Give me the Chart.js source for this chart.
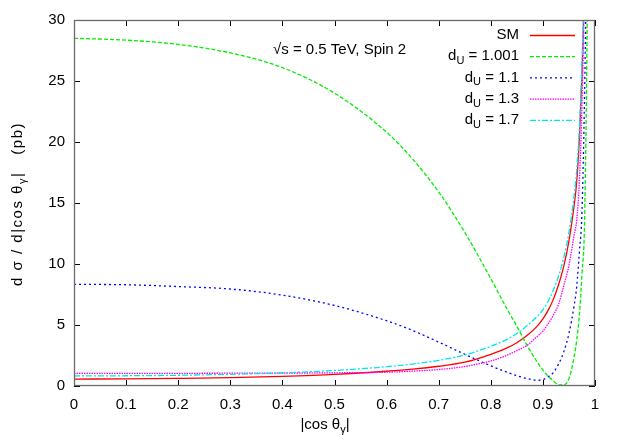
<!DOCTYPE html>
<html>
<head>
<meta charset="utf-8">
<script src="https://cdn.jsdelivr.net/npm/chart.js@4.4.1/dist/chart.umd.min.js"></script>
<style>
  html, body { margin: 0; padding: 0; background: #fff; }
  #wrap { width: 623px; height: 436px; }
</style>
</head>
<body>
<div id="wrap"><canvas id="xsChart" width="623" height="436"></canvas></div>
<script>
// |cos theta_gamma| sample points (dense near the forward peak)
const cosTheta = [0, 0.1, 0.2, 0.3, 0.4, 0.5, 0.6, 0.65, 0.7, 0.75, 0.8, 0.83, 0.85, 0.87, 0.89,
    0.9, 0.91, 0.92, 0.93, 0.94, 0.95, 0.96, 0.965, 0.97, 0.975, 0.98, 0.985, 0.99];

// d sigma / d|cos theta| in pb
const smValues = [0.57, 0.58, 0.62, 0.68, 0.79, 0.95, 1.21, 1.38, 1.62, 1.95, 2.6, 3.1, 3.55, 4.15, 4.95,
    5.5, 6.2, 7.1, 8.3, 9.8, 11.9, 14.8, 16.8, 20.3, 25.5, 33, 45, 65];
const du1001Values = [28.5, 28.35, 28.0, 27.3, 26.1, 24.0, 20.8, 18.6, 15.9, 12.6, 8.8, 6.4, 4.9, 3.3, 1.9,
    1.3, 0.8, 0.42, 0.1, 0.1, 0.6, 2.4, 3.8, 5.8, 9.2, 13.5, 30, 60];
const du11Values = [8.33, 8.3, 8.15, 7.95, 7.45, 6.6, 5.35, 4.55, 3.6, 2.6, 1.65, 1.15, 0.85, 0.6, 0.47,
    0.52, 0.75, 1.1, 1.8, 2.8, 4.3, 6.6, 8.2, 11, 14.3, 24, 40, 65];
const du13Values = [1.04, 1.04, 1.04, 1.05, 1.06, 1.08, 1.13, 1.22, 1.35, 1.6, 2.05, 2.5, 2.9, 3.35, 4.1,
    4.5, 5.1, 5.8, 6.7, 8.2, 9.9, 12.4, 13.6, 16.8, 23, 33, 46, 70];
const du17Values = [0.82, 0.84, 0.88, 0.96, 1.08, 1.27, 1.58, 1.8, 2.1, 2.55, 3.25, 3.8, 4.3, 4.95, 5.75,
    6.25, 6.95, 7.85, 9.0, 10.5, 12.6, 15.6, 17.7, 21.1, 26.5, 34, 46, 66];

const seriesLabels = ['SM', '1.001', '1.1', '1.3', '1.7'];
const seriesValues = [smValues, du1001Values, du11Values, du13Values, du17Values];
const seriesColors = ['#ff0000', '#00ee00', '#0000ff', '#ff00ff', '#00e5ee'];
const seriesDashes = [[], [4, 2], [2, 3], [1.5, 1], [6, 2, 2, 2]];

const FONT = '"Liberation Sans", Arial, sans-serif';

function toPoints(values) {
    return cosTheta.map((c, i) => ({ x: c, y: values[i] }));
}

// text made of normal + subscript pieces
function textWidth(ctx, parts) {
    let w = 0;
    parts.forEach(p => {
        ctx.font = (p.sub ? '11px ' : '15px ') + FONT;
        w += ctx.measureText(p.t).width;
    });
    return w;
}
function drawParts(ctx, parts, x, y) {
    ctx.textBaseline = 'middle';
    ctx.textAlign = 'left';
    parts.forEach(p => {
        ctx.font = (p.sub ? '11px ' : '15px ') + FONT;
        ctx.fillText(p.t, x, p.sub ? y + 5 : y);
        x += ctx.measureText(p.t).width;
    });
}

const decorPlugin = {
    id: 'decor',
    afterDraw(chart) {
        const { ctx, chartArea: a, scales: { x, y } } = chart;
        ctx.save();

        // inward ticks on all four sides
        ctx.strokeStyle = '#000';
        ctx.lineWidth = 1;
        ctx.beginPath();
        for (let v = 0; v <= 30; v += 5) {
            const py = Math.round(y.getPixelForValue(v)) + 0.5;
            ctx.moveTo(a.left, py); ctx.lineTo(a.left + 6, py);
            ctx.moveTo(a.right, py); ctx.lineTo(a.right - 6, py);
        }
        for (let i = 0; i <= 10; i++) {
            const px = Math.round(x.getPixelForValue(i / 10)) + 0.5;
            ctx.moveTo(px, a.bottom); ctx.lineTo(px, a.bottom - 6);
            ctx.moveTo(px, a.top); ctx.lineTo(px, a.top + 6);
        }
        ctx.stroke();

        // frame
        ctx.strokeStyle = '#6a6a6a';
        ctx.lineWidth = 1.3;
        ctx.strokeRect(a.left + 0.5, a.top + 0.5, a.width - 1, a.height - 1);

        ctx.fillStyle = '#000';

        // key
        seriesLabels.forEach((lab, i) => {
            const yy = 35 + 21.2 * i;
            const parts = i === 0 ? [{ t: 'SM' }] :
                [{ t: 'd' }, { t: 'U', sub: true }, { t: ' = ' + lab }];
            const w = textWidth(ctx, parts);
            drawParts(ctx, parts, 519 - w, yy);
            ctx.strokeStyle = seriesColors[i];
            ctx.lineWidth = 1.3;
            ctx.setLineDash(seriesDashes[i]);
            ctx.beginPath();
            ctx.moveTo(530, yy + 0.5); ctx.lineTo(575, yy + 0.5);
            ctx.stroke();
            ctx.setLineDash([]);
        });

        // label inside the plot
        drawParts(ctx, [{ t: '\u221As = 0.5 TeV, Spin 2' }], 273, 50);

        // x axis title
        const xt = [{ t: '|cos \u03B8' }, { t: '\u03B3', sub: true }, { t: '|' }];
        drawParts(ctx, xt, 325 - textWidth(ctx, xt) / 2, 425);

        // y axis title (rotated, a bit spread out like the original)
        const yt = [{ t: 'd \u03C3 / d|cos \u03B8' }, { t: '\u03B3', sub: true }, { t: '|   (pb)' }];
        ctx.letterSpacing = '1.5px';
        ctx.translate(18, 204);
        ctx.rotate(-Math.PI / 2);
        drawParts(ctx, yt, -textWidth(ctx, yt) / 2, 0);
        ctx.letterSpacing = '0px';

        ctx.restore();
    }
};

const ctx = document.getElementById('xsChart').getContext('2d');
const xsChart = new Chart(ctx, {
    type: 'line',
    data: {
        datasets: seriesLabels.map((lab, i) => ({
            label: lab,
            data: toPoints(seriesValues[i]),
            borderColor: seriesColors[i],
            borderWidth: 1.3,
            borderDash: seriesDashes[i],
            pointRadius: 0,
            cubicInterpolationMode: 'monotone',
            fill: false,
            order: seriesLabels.length - i,
        })),
    },
    options: {
        responsive: false,
        animation: false,
        layout: { padding: { top: 20, right: 28, left: 0, bottom: 0 } },
        plugins: {
            legend: { display: false },
            tooltip: { enabled: false },
        },
        scales: {
            x: {
                type: 'linear',
                min: 0,
                max: 1,
                grid: { display: false, drawTicks: false },
                border: { display: false },
                ticks: {
                    stepSize: 0.1,
                    padding: 10,
                    color: '#000',
                    font: { family: FONT, size: 15 },
                    maxRotation: 0,
                    callback: v => String(Math.round(v * 10) / 10),
                },
                afterFit: scale => { scale.height = 50; },
            },
            y: {
                min: 0,
                max: 30,
                grid: { display: false, drawTicks: false },
                border: { display: false },
                ticks: {
                    stepSize: 5,
                    padding: 9,
                    color: '#000',
                    font: { family: FONT, size: 15 },
                },
                afterFit: scale => { scale.width = 74; },
            },
        },
    },
    plugins: [decorPlugin],
});
</script>
</body>
</html>
